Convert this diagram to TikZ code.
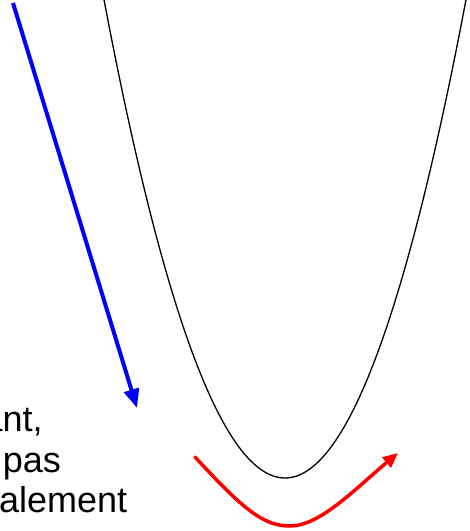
\documentclass[tikz,border=0pt]{standalone}
\usepackage{fontspec}
\setmainfont{Liberation Sans}
\usepackage{tikz}
\usetikzlibrary{arrows.meta}
\tikzset{
  descent/.style={blue,line width=4pt,-{Triangle[length=19pt,width=15pt]}},
  rebound/.style={red,line width=3.5pt,line cap=round,
                  -{Triangle[length=15pt,width=13pt]}},
  bowl/.style={black,line width=1.3pt},
  caption/.style={anchor=base west,inner sep=0pt,
                  font=\fontsize{36}{40}\selectfont},
}
\begin{document}
\begin{tikzpicture}[x=1pt,y=1pt]
    \clip (0,0) rectangle (470,531);

    % the valley
    \draw[bowl] plot[domain=95:475,samples=120]
          (\x,{53+1.46*((\x-285)/10)^2});

    % clipped text at the left border
    \node[caption] (line1) at (-17.5,99) {ant,};
    \node[caption] (line2) at (2.6,59) {pas};
    \node[caption] (line3) at (-1,18) {alement};

    % long step down
    \coordinate (bluestart) at (13,528);
    \coordinate (bluetip) at (137,123);
    \draw[descent] (bluestart) -- (bluetip);

    % step that overshoots the minimum
    \coordinate (redstart) at (195,74);
    \coordinate (redlow) at (290,5);
    \coordinate (redtip) at (398,78);
    \draw[rebound] (redstart) .. controls (243,22) and (263,5) .. (redlow)
          .. controls (320,5) and (355,42) .. (redtip);
\end{tikzpicture}
\end{document}
